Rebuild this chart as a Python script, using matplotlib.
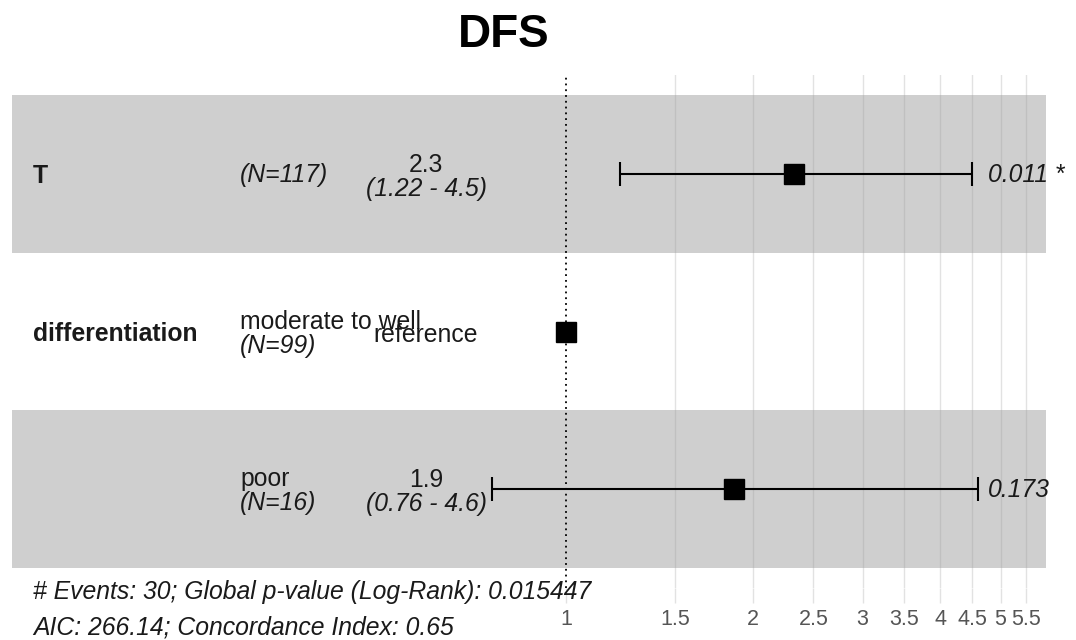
#Forest plot of the Cox model for DFS (ggforest style)

import numpy as np
import matplotlib
matplotlib.use('Agg')
import matplotlib.pyplot as plt
import matplotlib.transforms as mtrans

plt.rcParams['font.family'] = ['Liberation Sans', 'DejaVu Sans']

#Given data
var_names = ['T', 'differentiation', '']
levels = ['', 'moderate to well', 'poor']
n_obs = [117, 99, 16]
hr = [2.33, 1.0, 1.86]
lo = [1.22, np.nan, 0.76]
hi = [4.5, np.nan, 4.6]
p_txt = ['0.011 *', '', '0.173']
is_ref = [False, True, False]

ticks = [1, 1.5, 2, 2.5, 3, 3.5, 4, 4.5, 5, 5.5]
tick_labels = ['1', '1.5', '2', '2.5', '3', '3.5', '4', '4.5', '5', '5.5']

title = 'DFS'
foot1 = '# Events: 30; Global p-value (Log-Rank): 0.015447'
foot2 = 'AIC: 266.14; Concordance Index: 0.65'

#figure + panel
W, H = 1076, 640
fig = plt.figure(figsize=(W/100, H/100), dpi=100)
ax = fig.add_axes([12/W, 1-588/H, 1034/W, (588-75)/H])
ax.set_xscale('log')
ax.set_xlim(0.1285, 5.917)
pad = 0.127
ax.set_ylim(len(hr)-0.5+pad, -0.5-pad)
for s in ax.spines.values():
    s.set_visible(False)

#bands for odd rows
band_c = '#cfcfcf'
for i in range(len(hr)):
    if i % 2 == 0:
        ax.axhspan(i-0.5, i+0.5, color=band_c, lw=0, zorder=0)

#grid + reference line
for t in ticks[1:]:
    ax.axvline(t, color='#a0a0a0', alpha=0.3, lw=1.0, zorder=1)
ax.axvline(1, color='black', ls=(0, (1, 2.2)), lw=1.3, zorder=2)

ax.set_xticks(ticks)
ax.set_xticklabels(tick_labels)
ax.xaxis.set_minor_locator(matplotlib.ticker.NullLocator())
ax.tick_params(axis='x', length=11, width=1.0, color='#e2e2e2', pad=4,
               labelsize=15.5, labelcolor='#555555')
ax.set_yticks([])

#error bars and points
y = np.arange(len(hr))
hr_a = np.array(hr)
lo_a = np.array(lo)
hi_a = np.array(hi)
ok = ~np.isnan(lo_a)
ax.errorbar(hr_a[ok], y[ok], xerr=[hr_a[ok]-lo_a[ok], hi_a[ok]-hr_a[ok]],
            fmt='none', ecolor='black', elinewidth=1.5, capsize=8.5,
            capthick=1.5, zorder=3)
ax.plot(hr_a, y, 's', color='black', markersize=15, zorder=4)

#text columns (axes x, data y)
tr = mtrans.blended_transform_factory(ax.transAxes, ax.transData)
fs = 17.8
tc = '#1a1a1a'
x_var = (33-12)/1034
x_lev = (240-12)/1034
x_est = (426-12)/1034
x_p = (988-12)/1034

def put(x, yy, dy_px, s, **kw):
    ax.annotate(s, (x, yy), xycoords=tr, xytext=(0, -dy_px*0.72),
                textcoords='offset points', va='center', fontsize=fs,
                color=tc, annotation_clip=False, **kw)

for i in range(len(hr)):
    put(x_var, i, 2, var_names[i], ha='left', fontweight='bold')
    if levels[i]:
        put(x_lev, i, -10, levels[i], ha='left')
        put(x_lev, i, 14, '(N=%d)' % n_obs[i], ha='left', style='italic')
    else:
        put(x_lev, i, 1, '(N=%d)' % n_obs[i], ha='left', style='italic')
    if is_ref[i]:
        put(x_est, i, 3, 'reference', ha='center')
    else:
        put(x_est, i, -9, '%.2g' % hr[i], ha='center')
        put(x_est, i, 15, '(%g - %g)' % (lo[i], hi[i]), ha='center',
            style='italic')
    if p_txt[i]:
        put(x_p, i, 1, p_txt[i], ha='left', style='italic')

fig.text(33/W, 1-592/H, foot1, fontsize=fs, style='italic',
         color=tc, va='center', ha='left')
fig.text(33/W, 1-627/H, foot2, fontsize=fs, style='italic',
         color=tc, va='center', ha='left')

fig.text(504/W, 1-35/H, title, fontsize=33, fontweight='bold',
         ha='center', va='center', color='black')

plt.savefig('out.png', dpi=100)
